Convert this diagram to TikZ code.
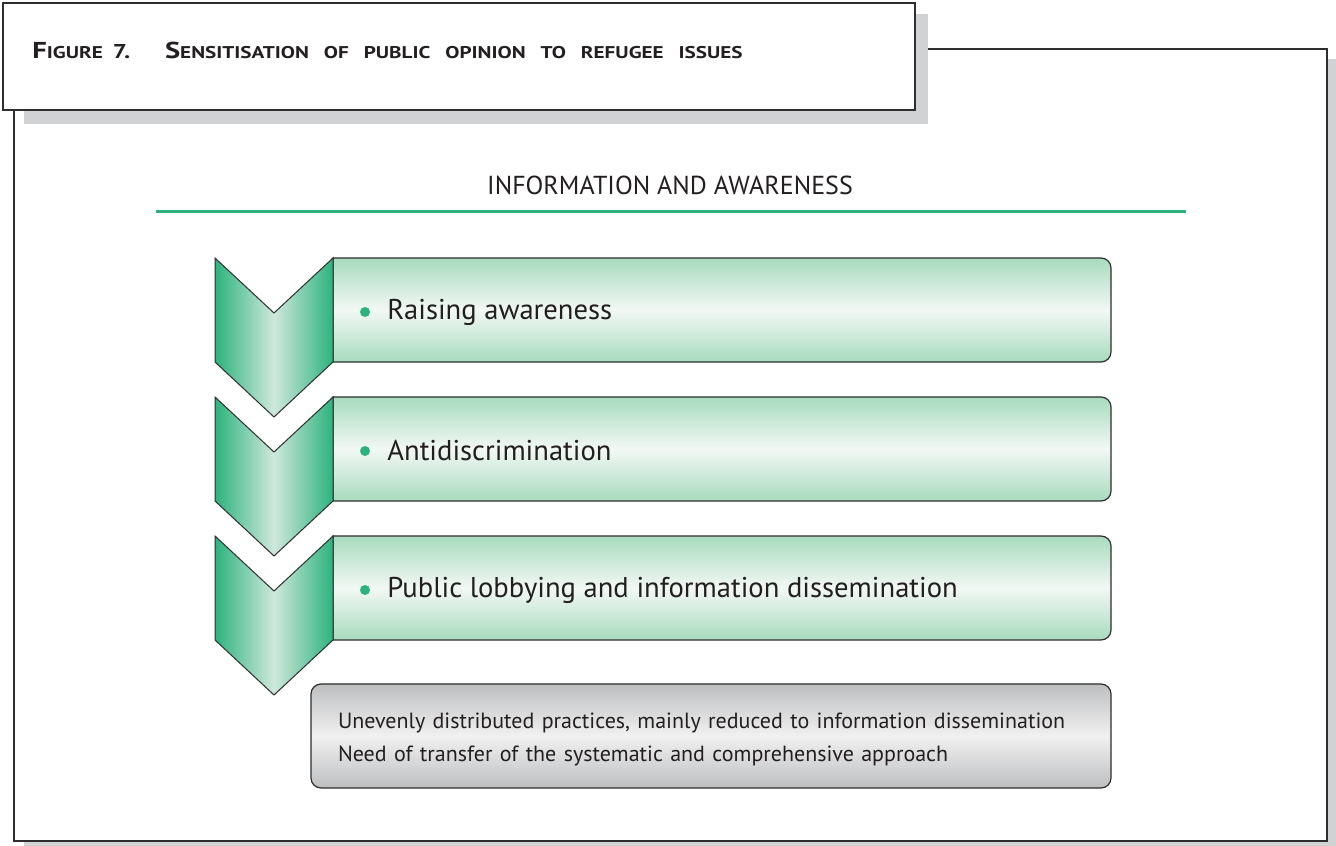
\documentclass[tikz,border=0pt]{standalone}
\usepackage{fontspec}
\setmainfont{PT Sans}
\usepackage{tikz}
\usetikzlibrary{positioning}
\definecolor{framegray}{HTML}{2E2E2E}
\definecolor{shadowgray}{HTML}{D1D2D4}
\definecolor{textgray}{HTML}{231F20}
\definecolor{stepgreen}{HTML}{2CB37D}
\definecolor{steplight}{HTML}{CFE8DB}
\definecolor{bartop}{HTML}{A8DBBF}
\definecolor{barmid}{HTML}{F2F8F4}
\definecolor{notetop}{HTML}{BDBEC0}
\definecolor{notemid}{HTML}{F1F1F1}
\colorlet{rulegreen}{stepgreen}

% big letter + small capitals, done by hand
\newcommand{\fakesc}[2]{{\fontsize{11.5}{13}\selectfont #1}{\fontsize{8.5}{10}\selectfont #2}}

\tikzset{
  framebox/.style={draw=framegray, line width=1pt, fill=white},
  chevron/.style={draw=framegray, line width=0.5pt, left color=stepgreen, right color=stepgreen, middle color=steplight},
  barbox/.style={draw=framegray, line width=0.6pt, top color=bartop, bottom color=bartop, middle color=barmid},
  notebox/.style={draw=framegray, line width=0.6pt, rounded corners=5pt, top color=notetop, bottom color=notetop, middle color=notemid},
  bartext/.style={anchor=west, inner sep=0pt, text=textgray, font=\fontsize{14.3}{16}\selectfont},
  dot/.style={fill=stepgreen}
}

\begin{document}
\begin{tikzpicture}[x=0.5pt, y=0.5pt]
\useasboundingbox (0,0) rectangle (1336,845);
\clip (0,0) rectangle (1336,845);

% outer frame with its shadow
\fill[shadowgray] (24,-6) rectangle (1337,786);
\draw[framebox] (14,4) rectangle (1327,796);

% title box
\fill[shadowgray] (24,721) rectangle (928,831);
\draw[framebox] (3,735) rectangle (915,842);
\node[anchor=base west, inner sep=0pt, text=textgray, font=\bfseries] (title) at (32,786)
  {\scalebox{1.245}[1]{\fakesc{F}{IGURE}\hspace{4pt}7.\hspace{14pt}\fakesc{S}{ENSITISATION}\hspace{6pt}\fakesc{}{OF}\hspace{6pt}\fakesc{}{PUBLIC}\hspace{6pt}\fakesc{}{OPINION}\hspace{6pt}\fakesc{}{TO}\hspace{6pt}\fakesc{}{REFUGEE}\hspace{6pt}\fakesc{}{ISSUES}}};

% heading
\node[text=textgray, inner sep=0pt, font=\fontsize{13}{15}\selectfont] (infohead) at (670,660)
  {INFORMATION AND AWARENESS};
\draw[rulegreen, line width=1.5pt] (156,633) -- (1186,633);

% bars
\shade[barbox] (333,587) -- (1101,587) arc[start angle=90, end angle=0, radius=10] -- (1111,493) arc[start angle=0, end angle=-90, radius=10] -- (333,483) -- cycle;
\shade[barbox] (333,448) -- (1101,448) arc[start angle=90, end angle=0, radius=10] -- (1111,354) arc[start angle=0, end angle=-90, radius=10] -- (333,344) -- cycle;
\shade[barbox] (333,309) -- (1101,309) arc[start angle=90, end angle=0, radius=10] -- (1111,215) arc[start angle=0, end angle=-90, radius=10] -- (333,205) -- cycle;

% chevrons
\shade[chevron] (215,587) -- (274,532) -- (333,587) -- (333,483) -- (274,428) -- (215,483) -- cycle;
\shade[chevron] (215,448) -- (274,393) -- (333,448) -- (333,344) -- (274,289) -- (215,344) -- cycle;
\shade[chevron] (215,309) -- (274,254) -- (333,309) -- (333,205) -- (274,150) -- (215,205) -- cycle;

% bar texts
\fill[dot] (365,533) circle (5);
\node[bartext] (raise) at (387,533) {Raising awareness};
\fill[dot] (365,394) circle (5);
\node[bartext] (antidisc) at (387,394) {Antidiscrimination};
\fill[dot] (365,255) circle (5);
\node[bartext] (lobby) at (387,255) {Public lobbying and information dissemination};

% note at the bottom
\node[notebox, minimum width=400pt, minimum height=52pt, inner sep=0pt] (note) at (711,109) {};
\node[inner sep=0pt, text width=373pt, align=left, text=textgray, font=\fontsize{11}{16.5}\selectfont] (notetext) at (711,106)
  {Unevenly distributed practices, mainly reduced to information dissemination\\
   Need of transfer of the systematic and comprehensive approach};
\end{tikzpicture}
\end{document}
